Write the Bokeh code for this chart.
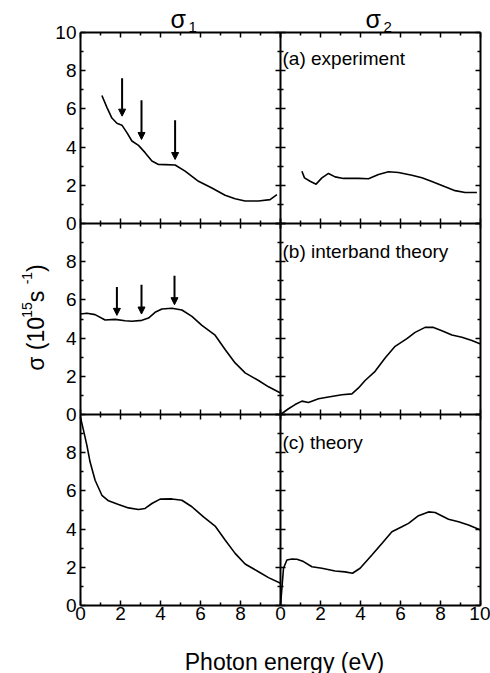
import math
from bokeh.plotting import figure
from bokeh.models import (Range1d, LinearAxis, FixedTicker, Label, Arrow,
                          NormalHead, ColumnDataSource)
from bokeh.embed import file_html
from bokeh.resources import INLINE

FONT = "Liberation Sans"

# ---------------- data ----------------
# (a) experiment, sigma_1
s1_exp_x = [1.07, 1.32, 1.57, 1.82, 2.07, 2.32, 2.57, 2.9, 3.23, 3.57, 3.9, 4.23,
            4.73, 5.23, 5.9, 6.57, 7.23, 7.73, 8.23, 8.9, 9.48, 9.82]
s1_exp_y = [6.70, 6.08, 5.52, 5.25, 5.15, 4.76, 4.32, 4.09, 3.71, 3.27, 3.09, 3.08,
            3.06, 2.74, 2.21, 1.86, 1.48, 1.30, 1.18, 1.18, 1.25, 1.51]
# (a) experiment, sigma_2
s2_exp_x = [1.07, 1.2, 1.48, 1.78, 2.07, 2.4, 2.73, 3.15, 3.9, 4.4, 4.9, 5.4, 5.9,
            6.57, 7.07, 7.57, 8.23, 8.73, 9.23, 9.82]
s2_exp_y = [2.74, 2.39, 2.21, 2.06, 2.39, 2.62, 2.44, 2.36, 2.36, 2.34, 2.57, 2.71,
            2.67, 2.53, 2.39, 2.20, 1.92, 1.72, 1.62, 1.62]
# (b) interband theory, sigma_1
s1_int_x = [0, 0.32, 0.73, 1.23, 1.73, 2.23, 2.57, 3.07, 3.4, 3.73, 4.07, 4.57, 5.07,
            5.57, 6.07, 6.73, 7.23, 7.73, 8.23, 8.9, 9.4, 10]
s1_int_y = [5.26, 5.30, 5.23, 4.95, 4.98, 4.91, 4.88, 4.93, 5.05, 5.35, 5.52, 5.56,
            5.47, 5.14, 4.67, 4.15, 3.40, 2.70, 2.18, 1.78, 1.45, 1.13]
# (b) interband theory, sigma_2
s2_int_x = [0, 0.4, 0.73, 1.07, 1.4, 1.9, 2.4, 3.07, 3.57, 3.9, 4.23, 4.73, 5.23,
            5.73, 6.32, 6.73, 7.23, 7.65, 8.07, 8.57, 9.07, 9.57, 10]
s2_int_y = [0, 0.30, 0.52, 0.70, 0.63, 0.82, 0.92, 1.03, 1.08, 1.39, 1.78, 2.26,
            2.96, 3.57, 3.97, 4.30, 4.56, 4.56, 4.39, 4.16, 4.04, 3.87, 3.69]
# (c) theory, sigma_1
s1_th_x = [0, 0.15, 0.32, 0.48, 0.73, 1.07, 1.4, 1.9, 2.4, 2.9, 3.23, 3.57, 3.98,
           4.57, 5.07, 5.57, 6.15, 6.73, 7.23, 7.73, 8.23, 8.9, 9.4, 10]
s1_th_y = [9.85, 9.17, 8.38, 7.51, 6.56, 5.77, 5.48, 5.29, 5.11, 5.03, 5.08, 5.34,
           5.57, 5.58, 5.51, 5.17, 4.64, 4.16, 3.43, 2.73, 2.17, 1.77, 1.46, 1.17]
# (c) theory, sigma_2
s2_th_x = [0, 0.07, 0.15, 0.32, 0.57, 0.82, 1.15, 1.57, 2.07, 2.73, 3.23, 3.6, 3.98,
           4.57, 5.07, 5.57, 6.07, 6.4, 6.9, 7.4, 7.73, 8.4, 8.9, 9.4, 10]
s2_th_y = [0, 0.9, 1.95, 2.38, 2.43, 2.42, 2.30, 2.03, 1.95, 1.81, 1.76, 1.69, 1.95,
           2.64, 3.25, 3.86, 4.12, 4.30, 4.70, 4.90, 4.87, 4.52, 4.38, 4.21, 3.95]

# arrows (energy, start, end)
arr_a_x = [2.08, 3.05, 4.73]
arr_a_y0 = [7.60, 6.45, 5.40]
arr_a_y1 = [5.62, 4.40, 3.35]
arr_b_x = [1.82, 3.05, 4.70]
arr_b_y0 = [6.67, 6.79, 7.26]
arr_b_y1 = [5.19, 5.26, 5.75]

panel_labels = ["(a) experiment", "(b) interband theory", "(c) theory"]
y_ticks_top = [0, 2, 4, 6, 8, 10]
y_ticks_low = [0, 2, 4, 6, 8]
x_ticks_left = [0, 2, 4, 6, 8]
x_ticks_right = [0, 2, 4, 6, 8, 10]
ticks_all = [0, 2, 4, 6, 8, 10]
minor_all = [1, 3, 5, 7, 9]

# ---------------- layout geometry (canvas pixels) ----------------
W, H = 490, 673
col_x0 = {"L": 80, "R": 280}        # pixel of x = 0 in each column
px_per_x = 20.0                      # 10 eV -> 200 px
row_y0 = {"a": 223, "b": 414, "c": 605}   # pixel of sigma = 0 in each row
px_per_y = 19.1                      # 10 units -> 191 px

p = figure(width=W, height=H,
           x_range=Range1d(0, W), y_range=Range1d(H, 0),
           x_axis_type=None, y_axis_type=None,
           output_backend="svg", toolbar_location=None,
           min_border=0, min_border_left=0, min_border_right=0,
           min_border_top=0, min_border_bottom=0)
p.outline_line_color = None
p.background_fill_color = "white"
p.border_fill_color = "white"

p.extra_x_ranges = {k: Range1d(-x0 / px_per_x, (W - x0) / px_per_x)
                    for k, x0 in col_x0.items()}
p.extra_y_ranges = {k: Range1d(-(H - y0) / px_per_y, y0 / px_per_y)
                    for k, y0 in row_y0.items()}


def add_axis(side, xr, yr, loc, ticks, labels, tin=5, tout=0, standoff=4):
    ax = LinearAxis(ticker=FixedTicker(ticks=ticks, minor_ticks=minor_all),
                    fixed_location=loc, bounds=(0, 10),
                    x_range_name=xr, y_range_name=yr,
                    axis_line_width=2, axis_line_color="black",
                    major_tick_in=tin, major_tick_out=tout,
                    minor_tick_in=max(tin - 2, 0), minor_tick_out=max(tout - 2, 0),
                    major_tick_line_width=1.5, minor_tick_line_width=1.5,
                    major_tick_line_color="black", minor_tick_line_color="black",
                    major_label_standoff=standoff,
                    major_label_text_font=FONT,
                    major_label_text_font_size="19px",
                    major_label_text_color="black")
    if not labels:
        ax.major_label_text_color = None
    p.add_layout(ax, side)
    return ax


for yr in ["a", "b", "c"]:
    # left edge (labelled), middle divider, right edge
    add_axis("left", "L", yr, 0, y_ticks_top if yr == "a" else y_ticks_low, True)
    add_axis("left", "L", yr, 10, ticks_all, False, tin=5, tout=5)
    add_axis("right", "R", yr, 10, ticks_all, False)
for xr in ["L", "R"]:
    add_axis("above", xr, "a", 10, ticks_all, False)
    add_axis("below", xr, "a", 0, ticks_all, False, tin=5, tout=5)
    add_axis("below", xr, "b", 0, ticks_all, False, tin=5, tout=5)
    add_axis("below", xr, "c", 0, x_ticks_left if xr == "L" else x_ticks_right,
             True, standoff=1)

# curves
curves = [
    (s1_exp_x, s1_exp_y, "L", "a"), (s2_exp_x, s2_exp_y, "R", "a"),
    (s1_int_x, s1_int_y, "L", "b"), (s2_int_x, s2_int_y, "R", "b"),
    (s1_th_x, s1_th_y, "L", "c"), (s2_th_x, s2_th_y, "R", "c"),
]
for xs, ys, xr, yr in curves:
    p.line(xs, ys, x_range_name=xr, y_range_name=yr,
           line_color="black", line_width=1.6)

# arrows
for xs, y0, y1, yr in [(arr_a_x, arr_a_y0, arr_a_y1, "a"),
                       (arr_b_x, arr_b_y0, arr_b_y1, "b")]:
    src = ColumnDataSource(dict(x=xs, y0=y0, y1=y1))
    p.add_layout(Arrow(x_start="x", y_start="y0", x_end="x", y_end="y1",
                       source=src, x_range_name="L", y_range_name=yr,
                       line_width=2, line_color="black",
                       end=NormalHead(size=7, fill_color="black",
                                      line_color="black", line_width=1)))

# panel labels
for txt, yr, off in zip(panel_labels, ["a", "b", "c"], [-26, -28, -28]):
    p.add_layout(Label(x=0, y=10, x_range_name="R", y_range_name=yr,
                       x_offset=2, y_offset=off, text=txt,
                       text_font=FONT, text_font_size="19px",
                       text_color="black", text_baseline="alphabetic",
                       text_align="left"))

# column titles sigma_1 / sigma_2 (canvas pixel positions)
for sx, subx, sub in [(170, 188, "1"), (365, 383, "2")]:
    p.add_layout(Label(x=sx, y=18, text="σ",
                       text_font=FONT, text_font_size="25px", text_color="black",
                       text_baseline="alphabetic", text_align="left"))
    p.add_layout(Label(x=subx, y=26, text=sub,
                       text_font=FONT, text_font_size="15px", text_color="black",
                       text_baseline="alphabetic", text_align="left"))

# y-axis title, rotated, built from pieces for the superscripts
main_fs, sup_fs = 23, 14
widths = {"σ": 0.58, " ": 0.278, "(": 0.333, ")": 0.333, "1": 0.556, "0": 0.556,
          "5": 0.556, "s": 0.5, "-": 0.333}
pieces = [("σ (10", main_fs, 0), ("15", sup_fs, 9), (" s", main_fs, 0),
          ("-1", sup_fs, 9), (")", main_fs, 0)]
total = sum(sum(widths[c] for c in t) * fs for t, fs, _ in pieces)
pos = 317 + total / 2.0
for t, fs, raise_px in pieces:
    p.add_layout(Label(x=35 - raise_px, y=pos, text=t,
                       angle=math.pi / 2, text_font=FONT,
                       text_font_size=f"{fs}px", text_color="black",
                       text_baseline="alphabetic", text_align="left"))
    pos -= sum(widths[c] for c in t) * fs

# x-axis title
p.add_layout(Label(x=284, y=661, text="Photon energy (eV)",
                   text_font=FONT, text_font_size="23px", text_color="black",
                   text_baseline="alphabetic", text_align="center"))

open("out.html", "w").write(file_html(p, INLINE))
